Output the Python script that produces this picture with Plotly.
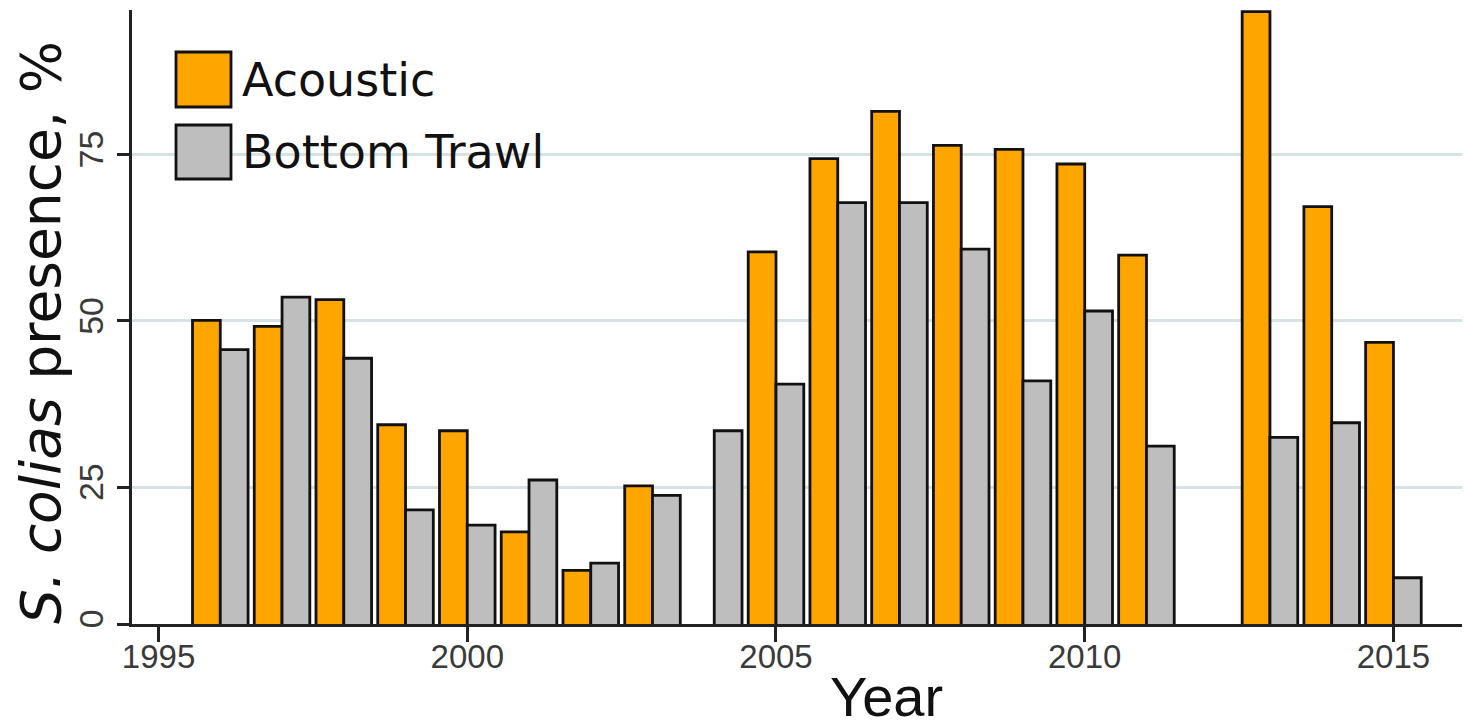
import plotly.graph_objects as go

# ---- data ----
years = list(range(1996, 2016))
acoustic = [50.1, 49.2, 53.2, 34.4, 33.5, 18.3, 12.5, 25.2, None, 60.4,
            74.4, 81.5, 76.4, 75.8, 73.6, 59.9, None, 96.5, 67.2, 46.8]
trawl = [45.7, 53.6, 44.4, 21.6, 19.3, 26.1, 13.6, 23.8, 33.5, 40.5,
         67.8, 67.8, 60.8, 41.0, 51.5, 31.2, None, 32.5, 34.7, 11.4]
series_names = ["Acoustic", "Bottom Trawl"]
series_colors = ["#FFA500", "#BEBEBE"]
x_ticks = [1995, 2000, 2005, 2010, 2015]
y_tickvals = [4.45, 25, 50, 75]
y_ticktext = ["0", "25", "50", "75"]

# page offset of the plot div (browser default body margin)
OFF = 8
W, H = 1462, 714
ML, MR, MT, MB = 124, 0, 2, 98
PW, PH = W - ML - MR, H - MT - MB


def px_x(p):
    """page pixel x -> paper fraction"""
    return (p - OFF - ML) / PW


def px_y(p):
    """page pixel y -> paper fraction"""
    return (H - MB - (p - OFF)) / PH


fig = go.Figure()
for name, vals, col in zip(series_names, [acoustic, trawl], series_colors):
    fig.add_trace(go.Bar(
        x=years, y=vals, name=name, showlegend=False,
        marker=dict(color=col, line=dict(color="#111111", width=2.8)),
    ))

tick_font = dict(family="Liberation Sans, Arial, sans-serif", size=33, color="#3a3a3a")

fig.update_layout(
    width=W, height=H,
    margin=dict(l=ML, r=MR, t=MT, b=MB),
    paper_bgcolor="white", plot_bgcolor="white",
    barmode="group", bargap=0.1, bargroupgap=0,
    xaxis=dict(
        range=[1994.57, 2016.24], tickvals=x_ticks, ticks="outside",
        ticklen=15, tickwidth=2.5, tickcolor="#222",
        showline=True, linecolor="#222", linewidth=3,
        showgrid=False, zeroline=False, tickfont=tick_font,
        ticklabelstandoff=-14,
    ),
    yaxis=dict(
        range=[4.45, 96.75], tickvals=y_tickvals, ticktext=y_ticktext,
        ticks="outside", ticklen=12, tickwidth=2.5, tickcolor="#222",
        tickangle=-90, showline=True, linecolor="#222", linewidth=3,
        showgrid=True, gridcolor="#d6e2e6", gridwidth=2.5,
        zeroline=False, tickfont=dict(tick_font, size=34),
    ),
)

# axis titles
fig.add_annotation(
    text="Year", xref="paper", yref="paper", x=px_x(886), y=px_y(696),
    xanchor="center", yanchor="middle", showarrow=False,
    font=dict(family="Liberation Sans, Arial, sans-serif", size=56, color="#111"),
)
fig.add_annotation(
    text="<i>S. colias</i> presence, %", xref="paper", yref="paper",
    x=px_x(41), y=px_y(333), textangle=-90,
    xanchor="center", yanchor="middle", showarrow=False,
    font=dict(family="DejaVu Sans, Verdana, sans-serif", size=55, color="#111"),
)

# legend (large keys as in the reference)
legend_rows = [(52, 107, 80), (125, 179, 152)]
for name, col, (top, bot, mid) in zip(series_names, series_colors, legend_rows):
    fig.add_shape(type="rect", xref="paper", yref="paper",
                  x0=px_x(176), x1=px_x(231), y0=px_y(bot), y1=px_y(top),
                  fillcolor=col, line=dict(color="#111", width=2.8))
    fig.add_annotation(
        text=name, xref="paper", yref="paper", x=px_x(240), y=px_y(mid),
        xanchor="left", yanchor="middle", showarrow=False,
        font=dict(family="DejaVu Sans, Verdana, sans-serif", size=46, color="#111"),
    )

fig.write_html("out.html")
